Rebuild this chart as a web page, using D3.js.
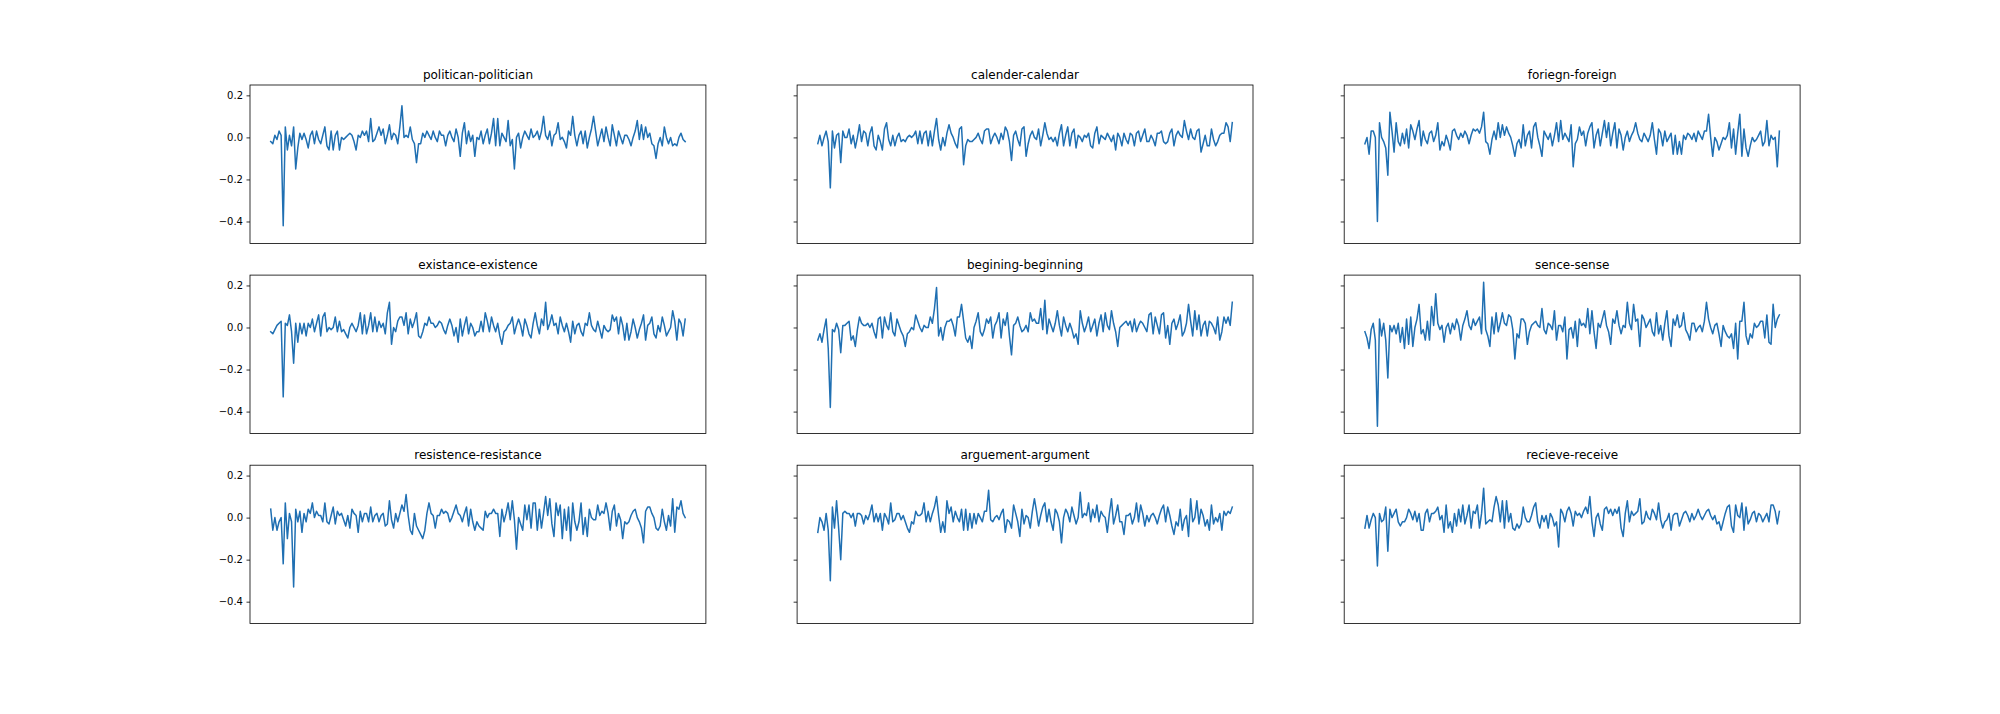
<!DOCTYPE html>
<html>
<head>
<meta charset="utf-8">
<script src="https://cdn.jsdelivr.net/npm/d3@7"></script>
<style>
  body { margin: 0; background: #fff; }
  svg { display: block; }
  text { font-family: "DejaVu Sans", sans-serif; }
</style>
</head>
<body>
<svg id="chart" width="2000" height="714"></svg>
<script>
// 9 misspelling pairs, one series each
const titles = [
  'politican-politician', 'calender-calendar', 'foriegn-foreign',
  'existance-existence', 'begining-beginning', 'sence-sense',
  'resistence-resistance', 'arguement-argument', 'recieve-receive'
];

const politican = [
  -.02,-.03,.01,-.01,.03,.01,-.42,.05,-.06,.01, -.04,.05,-.15,-.05,.02,-.01,.02,-.01,-.05,.01,
  .03,-.03,.03,-.01,-.03,.01,.05,-.04,-.06,.03, -.06,.01,.03,-.06,0,-.01,0,.01,.02,.01,
  -.02,-.06,.01,0,.03,.01,.03,-.02,.09,-.02, -.01,.02,.05,.01,.04,-.03,.01,.06,-.01,.02,
  .01,-.03,.05,.15,0,.01,0,.05,-.01,-.03, -.12,-.03,-.03,.02,0,.03,.01,-.01,.03,0,
  -.02,.03,.01,.01,-.04,.01,.03,0,-.02,.04, 0,-.09,.02,.07,-.03,.03,-.02,.01,-.09,0,
  -.01,.03,-.03,.01,.04,-.03,.02,.09,-.04,.09, -.04,.02,0,-.02,.08,-.04,-.01,-.15,0,.02,
  -.05,0,.03,.01,-.01,.04,0,.01,.03,-.01, .03,.1,.01,-.01,.03,-.04,.01,.02,.07,-.01,
  0,-.02,-.05,.03,.01,.1,.01,-.04,.01,.03, -.03,.03,-.05,0,.04,.1,.03,-.04,0,.04,
  -.02,.05,0,-.04,.06,.01,-.04,.03,0,-.03, .01,.01,-.01,-.04,0,.03,.08,-.01,.06,-.01,
  .05,0,.02,-.03,-.04,-.1,-.03,0,-.04,.05, 0,-.03,0,-.04,-.03,-.04,0,.02,-.01,-.02
];
const calender = [
  -.03,.01,-.04,0,.03,-.02,-.24,.03,-.05,.01, .02,-.12,.03,0,0,.04,-.03,.01,-.05,0,
  .06,-.02,.03,.02,-.04,.02,.05,-.04,-.06,.01, -.02,-.06,.04,.07,-.01,-.04,.01,-.04,0,.02,
  -.02,-.01,-.02,0,.01,0,.01,.03,-.03,.03, -.03,.02,.03,-.04,.03,-.04,.03,.09,-.01,-.06,
  0,-.04,.02,.06,.02,0,-.03,-.05,.04,.05, -.13,-.04,-.01,-.02,-.02,-.01,0,.02,-.01,-.03,
  .03,.04,.04,-.03,0,.02,0,-.03,.02,-.01, .05,.03,-.02,-.11,.01,.03,-.01,-.04,.04,.05,
  -.09,-.03,.01,.03,0,-.01,.04,-.04,.01,.07, .02,-.01,0,-.02,0,-.04,.02,.06,-.04,.01,
  .05,-.04,.02,.04,-.05,.01,0,-.02,.01,0, .02,-.04,-.05,.02,.05,-.03,.01,0,-.01,.02,
  0,-.02,.01,-.06,.02,0,-.04,.02,-.01,-.03, .02,.01,-.04,.02,.03,-.02,.01,.04,-.02,-.02,
  .01,-.01,-.04,.02,.02,.03,-.02,-.03,-.02,.02, .04,-.04,.01,.03,.01,0,.08,.03,-.01,.04,
  0,-.01,.03,.04,-.07,-.03,.01,-.04,-.04,.04, -.01,-.04,-.02,.01,.02,.02,.07,.05,-.02,.07
];
const foriegn = [
  -.03,0,-.08,.03,.03,0,-.4,.07,0,-.02, -.05,-.18,.12,.03,-.07,.07,-.02,-.04,.02,-.03,
  .04,-.05,.06,.03,-.01,.04,.08,-.04,.03,-.01, -.03,.02,.03,-.02,.01,.07,-.06,-.02,-.04,.01,
  -.02,-.06,.03,.04,.01,-.01,.02,0,.03,.01, -.03,.01,.04,.03,.04,.02,.05,.12,-.02,-.03,
  -.08,-.01,.03,-.01,.07,0,.06,.01,.05,.02, 0,-.04,-.09,-.03,-.01,-.05,.06,-.04,.01,.03,
  -.05,.05,.07,0,-.04,-.09,.03,.01,-.01,.02, -.04,.01,.07,-.02,.08,-.01,.02,0,-.02,.06,
  -.14,-.03,-.01,.05,.01,.03,-.04,.02,.05,.07, -.05,.01,.04,-.04,.02,.08,0,.07,-.04,.02,
  .07,-.05,.04,.01,-.06,0,.03,-.02,.01,.03, .07,.02,-.01,-.02,.02,0,-.02,.01,.07,-.01,
  -.08,.04,.02,-.04,.03,-.02,0,.02,-.08,.01, -.08,-.02,-.08,.01,-.01,.02,.01,-.01,.02,-.02,
  .03,.01,-.01,.03,.03,.11,0,-.09,0,-.02, -.06,-.03,0,-.01,.01,.07,-.05,.04,-.08,.02,
  .11,-.09,.04,-.05,-.09,-.04,0,-.02,-.01,.01, .03,-.04,-.02,.08,-.04,.01,-.01,0,-.14,.03
];
const existance = [
  -.02,-.03,-.01,.01,.02,.03,-.33,.02,.01,.06, -.02,-.17,.02,-.07,.02,-.03,.02,-.04,.02,0,
  .04,-.02,.02,.06,-.04,.05,.07,-.02,0,-.01, 0,.05,-.02,.03,-.02,-.01,-.03,-.05,0,.02,
  0,-.02,.01,.07,-.03,.06,-.03,.01,.07,-.02, .05,-.02,.03,0,.02,-.03,.07,.12,-.08,0,
  -.02,.03,.05,.05,.01,.07,-.03,.04,0,.03, .07,-.04,-.05,-.02,.02,.01,.05,.02,.02,0,
  .01,.03,.02,-.01,-.03,.01,.04,.01,-.04,0, -.07,.04,-.04,.01,.05,-.03,.02,0,-.04,-.02,
  -.02,.03,-.02,.07,.03,-.02,.05,.01,-.02,.02, -.04,-.08,-.02,-.01,.01,.02,.05,-.03,.01,.04,
  .01,-.04,.04,.01,-.03,-.05,.02,.07,.01,-.03, .04,.01,.12,-.01,.02,.06,.01,.02,-.03,.05,
  .01,-.02,.02,-.02,-.07,.03,-.03,.01,.02,-.02, -.04,.02,.01,.07,.01,-.01,-.02,.03,-.01,-.05,
  .01,-.01,-.02,-.01,.06,.03,.05,-.03,.05,.01, -.06,.02,-.06,-.02,.04,0,-.05,-.01,.02,.06,
  -.06,.01,.02,.05,-.03,-.05,.01,-.02,.05,.01, -.04,-.02,0,.08,.03,-.06,.04,.02,-.04,.04
];
const begining = [
  -.06,-.03,-.07,-.01,.04,-.1,-.38,-.01,-.02,.02, -.01,-.12,.01,.01,.02,.03,-.06,-.04,-.09,-.01,
  .05,.02,.01,.01,.02,0,.02,-.02,-.05,.04, .05,-.05,.05,.01,-.01,.07,-.02,-.04,.04,.01,
  -.02,-.04,-.09,-.03,-.02,0,-.01,.06,.03,0, -.02,.01,0,0,.05,.02,.09,.19,-.04,0,
  -.06,0,.03,.03,.04,.01,-.04,.05,.05,.11, .03,-.05,-.07,-.04,-.1,0,.03,.07,-.02,-.04,
  -.01,.04,.02,.05,-.05,.01,.03,.07,-.05,.04, .01,.07,-.04,-.13,.01,.02,.05,.01,-.02,-.01,
  .01,-.02,.07,.03,.04,.02,.02,.09,-.01,.13, -.03,.04,.01,-.02,.02,.08,.01,-.04,.05,.01,
  -.02,.02,-.01,-.05,-.03,-.08,.08,.02,-.02,.01, .05,-.02,.01,.04,-.04,.02,.06,-.02,.07,.01,
  -.01,.08,.02,-.02,-.09,0,.01,.02,.03,.01, .03,-.02,.04,-.02,.01,.03,.02,0,-.02,.06,
  .07,-.03,.05,.01,-.03,.06,.07,-.05,.01,-.08, .02,.04,-.01,.02,.06,-.04,-.02,.02,.11,.03,
  -.04,.08,-.01,.06,-.04,.01,.03,-.04,.03,.02, 0,-.03,.05,-.06,-.02,.05,.02,.05,.01,.12
];
const sence = [
  -.02,-.05,-.1,-.01,.02,-.06,-.47,.04,-.04,.02, -.06,-.24,.01,-.02,.01,-.03,.02,-.07,0,-.1,
  .04,-.08,.05,-.09,0,.04,.11,-.03,-.01,-.06, .03,-.06,.1,.01,.16,.02,-.01,.01,-.07,0,
  .02,-.03,.02,-.01,.04,.01,-.06,.01,.04,.08, .01,-.01,.04,.01,.03,.05,-.03,.215,-.01,-.04,
  -.09,.05,-.03,.07,-.02,.02,.07,.02,.01,.06, .05,-.01,-.15,-.03,-.05,.04,.04,.02,-.08,-.02,
  .01,.02,.03,.01,0,.09,-.01,-.03,.02,.01, -.01,.08,-.06,.01,.01,-.02,.05,-.15,-.01,0,
  -.05,.03,-.09,.04,.01,.02,0,.09,-.03,.08, -.02,-.1,.02,0,.04,.08,.01,-.02,-.08,.04,
  .02,.08,.01,-.03,.01,0,.12,.02,-.01,.11, .03,.04,-.09,.06,.04,0,.02,.04,-.02,-.04,
  .07,-.03,.01,-.06,.02,.08,-.04,-.09,.04,.01, .06,0,.01,.07,-.01,-.03,-.06,.02,.02,-.02,
  0,.01,-.02,.03,.12,.04,0,-.03,.01,.02, -.03,-.09,.01,-.02,-.04,-.05,-.03,-.1,.02,-.15,
  .03,.03,.12,-.04,-.08,-.03,-.05,.02,0,.01, .03,.03,-.05,.06,-.07,-.08,.11,0,.04,.06
];
const resistence = [
  .04,-.06,0,-.06,-.02,0,-.22,.07,-.1,.02, -.02,-.33,.04,-.02,.03,-.07,.02,-.02,.04,.02,
  .07,0,.03,.01,.01,-.02,.07,-.02,-.03,.01, .05,-.03,.03,.01,.02,-.01,-.04,.01,-.05,.04,
  .02,.01,-.07,.03,-.02,.02,.02,-.02,.05,-.02, .01,.02,-.02,.01,.02,-.04,-.03,.08,-.01,-.05,
  .02,-.02,.02,.06,.03,.11,.01,-.06,-.08,.02, -.04,-.06,-.08,-.1,-.06,.02,.07,.02,.01,-.05,
  .01,.01,.04,.02,.03,.02,-.02,0,.03,.06, .02,.01,-.02,.02,.05,-.04,.04,-.02,-.06,-.02,
  -.04,-.05,-.06,.03,0,.02,.02,.04,.02,.02, -.09,.04,-.02,.02,.07,-.01,.08,-.01,-.15,0,
  -.03,-.06,.06,-.01,.06,-.05,.07,.07,-.06,.04, -.05,.02,.1,.01,.09,-.03,-.09,.07,.01,.06,
  -.1,.04,-.06,.05,-.11,.07,-.02,-.06,-.02,.07, -.08,0,-.09,.04,0,-.01,-.01,.06,.01,.03,
  .02,.07,.02,-.06,.03,.06,-.04,.02,-.01,-.1, -.02,-.03,-.02,.01,.03,.04,0,-.02,-.05,-.12,
  .03,.05,.05,.02,0,-.05,-.06,-.04,.04,-.02, -.06,.01,-.04,.09,-.07,.05,.04,.08,.02,0
];
const arguement = [
  -.07,0,-.02,-.06,.02,-.06,-.3,.05,-.05,.08, -.05,-.2,.02,.03,.02,.02,0,.02,-.04,.02,
  .02,.01,-.03,.01,-.01,.02,.06,-.02,.02,-.02, .02,-.06,.02,0,-.03,.07,-.02,-.01,.02,.02,
  -.01,.01,-.02,-.05,-.07,-.02,-.03,.03,.01,.01, .02,.07,-.02,.03,-.02,.02,.05,.1,.01,-.07,
  -.02,-.07,.08,.02,.05,-.02,.03,0,-.02,.04, -.06,.04,-.06,.02,-.05,.02,-.03,.02,0,-.02,
  .03,.03,.13,-.01,-.02,0,.01,-.01,.02,.04, -.07,-.01,-.02,-.05,.06,.02,-.02,-.09,.04,-.03,
  .01,0,-.05,.03,.09,.03,-.04,.01,.05,.07, -.02,.04,-.02,-.06,.04,.02,-.02,-.12,0,.04,
  .02,-.02,.05,.01,-.03,0,.12,0,.02,.01, .07,-.02,.04,0,.06,-.02,.03,.01,0,-.07,
  .02,.09,-.03,.01,.06,-.02,-.02,-.08,.01,.01, .02,-.03,0,.07,-.02,.06,.02,-.04,.01,-.02,
  .01,.02,0,-.03,.01,.04,.06,-.02,.05,.01, -.04,-.08,-.02,-.04,.04,-.06,-.01,.01,-.09,.09,
  -.02,0,.08,-.03,.04,.01,-.04,-.01,-.06,.06, -.03,0,-.02,.02,-.06,.03,.01,.03,.02,.05
];
const recieve = [
  -.05,.01,-.05,-.01,.02,0,-.23,.02,-.02,-.01, .05,-.16,.04,0,.02,.04,-.02,-.04,-.02,-.02,
  0,.04,.02,-.01,.03,-.02,.02,-.06,-.06,.02, .04,-.02,.02,.02,.03,.05,-.01,.01,-.07,.06,
  -.05,-.02,-.07,.02,-.04,.04,-.02,.06,-.03,.01, .06,-.05,.03,.02,.06,-.05,.02,.14,-.03,-.02,
  -.01,-.02,.05,.1,.06,-.02,.08,-.05,.08,-.02, .02,-.05,-.06,-.03,-.05,-.03,.05,0,-.02,-.02,
  .01,.05,.07,-.02,-.05,.01,-.02,.01,-.05,.02, 0,-.04,-.02,-.14,.04,.02,-.02,.03,.05,.02,
  -.04,.03,.01,.02,0,.03,.05,.02,.1,-.02, -.09,0,.02,-.03,-.06,.04,.05,.02,.04,.01,
  .04,.02,.05,-.05,-.09,.02,.08,-.02,.03,.01, .02,.03,.09,-.03,-.02,.03,0,-.01,.04,.02,
  -.01,.07,-.01,-.05,-.02,-.01,.02,-.06,.01,.02, .02,-.04,-.01,.02,.03,.01,-.02,.02,-.01,.01,
  .04,.01,-.01,.01,.03,.04,.01,-.01,.01,-.03, -.02,-.06,-.02,.02,.05,.06,-.04,-.07,.06,.01,
  0,.07,-.06,.05,-.03,-.01,.02,.03,-.02,.02, .01,-.02,0,.02,-.02,.06,.06,.03,-.03,.03
];

const panels = [politican, calender, foriegn, existance, begining, sence, resistence, arguement, recieve];
const yTicks = [-0.4, -0.2, 0.0, 0.2];

// layout of the 3x3 grid
const gridLeft = 250, colW = 455.9, colGap = 91.2;
const gridTop = 85, rowH = 158.4, rowGap = 31.7;
const blue = '#1f6fb2';

const svg = d3.select('#chart');
svg.append('rect').attr('width', 2000).attr('height', 714).attr('fill', '#fff');

// shared y, autoscaled with 5% margins like matplotlib
const [lo, hi] = d3.extent(panels.flat());
const yPad = (hi - lo) * 0.05;
const yDomain = [lo - yPad, hi + yPad];
const fmt = d3.format('.1f');

panels.forEach((vals, k) => {
  const col = k % 3, row = Math.floor(k / 3);
  const x0 = gridLeft + col * (colW + colGap);
  const y0 = gridTop + row * (rowH + rowGap);

  const n = vals.length;
  const xPad = (n - 1) * 0.05;
  const x = d3.scaleLinear().domain([-xPad, n - 1 + xPad]).range([x0, x0 + colW]);
  const y = d3.scaleLinear().domain(yDomain).range([y0 + rowH, y0]);

  const g = svg.append('g');

  g.append('path')
    .datum(vals)
    .attr('fill', 'none')
    .attr('stroke', blue)
    .attr('stroke-width', 1.5)
    .attr('stroke-linejoin', 'round')
    .attr('stroke-linecap', 'square')
    .attr('d', d3.line().x((d, i) => x(i)).y(d => y(d)));

  // y axis: ticks everywhere, labels only in the first column
  const ax = g.append('g')
    .attr('transform', `translate(${x0},0)`)
    .call(d3.axisLeft(y).tickValues(yTicks).tickSize(3.5).tickPadding(3.5)
      .tickFormat(col === 0 ? fmt : () => ''));
  ax.select('.domain').remove();
  ax.selectAll('.tick line').attr('stroke', '#000').attr('stroke-width', 0.8);
  ax.selectAll('.tick text')
    .attr('fill', '#000')
    .attr('font-size', 10)
    .attr('font-family', '"DejaVu Sans", sans-serif');

  // frame
  g.append('rect')
    .attr('x', x0).attr('y', y0)
    .attr('width', colW).attr('height', rowH)
    .attr('fill', 'none')
    .attr('stroke', '#000')
    .attr('stroke-width', 0.8);

  g.append('text')
    .attr('x', x0 + colW / 2)
    .attr('y', y0 - 6)
    .attr('text-anchor', 'middle')
    .attr('font-size', 12)
    .attr('fill', '#000')
    .text(titles[k]);
});
</script>
</body>
</html>
